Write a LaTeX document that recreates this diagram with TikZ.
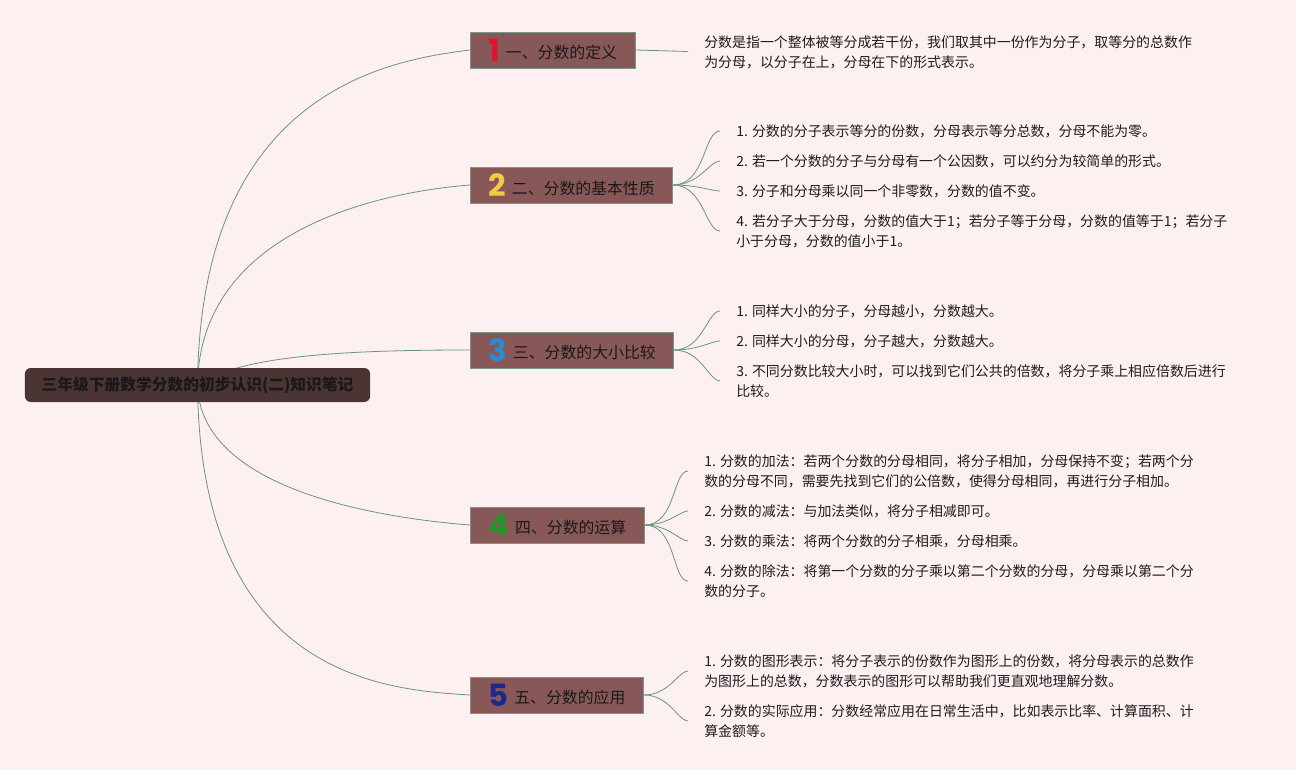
\documentclass[tikz,border=0pt]{standalone}
\usepackage{fontspec}
\setmainfont{Noto Sans CJK SC}
\newfontfamily\numfont{Poppins}
\usetikzlibrary{backgrounds}
\definecolor{bgpink}{RGB}{253,240,240}
\definecolor{rootfill}{RGB}{74,52,52}
\definecolor{topicfill}{RGB}{136,88,88}
\definecolor{topicline}{RGB}{120,150,135}
\definecolor{edgegreen}{RGB}{105,148,128}
\definecolor{leaftext}{RGB}{30,30,30}
\definecolor{numone}{RGB}{224,20,40}
\definecolor{numtwo}{RGB}{245,200,70}
\definecolor{numthree}{RGB}{40,140,210}
\definecolor{numfour}{RGB}{35,150,40}
\definecolor{numfive}{RGB}{30,40,140}

\begin{document}
\begin{tikzpicture}[x=0.75pt,y=-0.75pt]
\tikzset{
  rootnode/.style={rectangle,rounded corners=4.5pt,fill=rootfill,text=black!90,minimum width=259pt,minimum height=25.5pt,inner sep=2pt,font=\fontsize{11.8}{14}\selectfont\bfseries},
  topicnode/.style={rectangle,anchor=west,fill=topicfill,draw=topicline,line width=0.6pt,minimum height=27pt,inner xsep=13.5pt,inner ysep=1pt,text=black!90,font=\fontsize{11.9}{14}\selectfont},
  leafnode/.style={anchor=west,inner sep=0pt,align=left,text=leaftext,font=\fontsize{10.45}{15}\selectfont},
  mainedge/.style={draw=edgegreen,line width=0.6pt},
  leafedge/.style={draw=edgegreen,line width=0.6pt,shorten >=12pt}
}
\node[rootnode] (n_root) at (197.5,385) {三年级下册数学分数的初步认识(二)知识笔记};
\node[topicnode] (n_b1) at (470,50) {\raisebox{-1.8pt}{\numfont\bfseries\fontsize{23}{23}\selectfont\color{numone}1}\hspace{4.5pt}一、分数的定义};
\node[topicnode] (n_b2) at (470,185) {\raisebox{-1.8pt}{\numfont\bfseries\fontsize{23}{23}\selectfont\color{numtwo}2}\hspace{4.5pt}二、分数的基本性质};
\node[topicnode] (n_b3) at (470,350) {\raisebox{-1.8pt}{\numfont\bfseries\fontsize{23}{23}\selectfont\color{numthree}3}\hspace{4.5pt}三、分数的大小比较};
\node[topicnode] (n_b4) at (470,525) {\raisebox{-1.8pt}{\numfont\bfseries\fontsize{23}{23}\selectfont\color{numfour}4}\hspace{4.5pt}四、分数的运算};
\node[topicnode] (n_b5) at (470,695) {\raisebox{-1.8pt}{\numfont\bfseries\fontsize{23}{23}\selectfont\color{numfive}5}\hspace{4.5pt}五、分数的应用};
\node[leafnode] (n_b1_1) at (704,52) {分数是指一个整体被等分成若干份，我们取其中一份作为分子，取等分的总数作\\为分母，以分子在上，分母在下的形式表示。};
\node[leafnode] (n_b2_1) at (736,131) {1. 分数的分子表示等分的份数，分母表示等分总数，分母不能为零。};
\node[leafnode] (n_b2_2) at (736,161) {2. 若一个分数的分子与分母有一个公因数，可以约分为较简单的形式。};
\node[leafnode] (n_b2_3) at (736,191) {3. 分子和分母乘以同一个非零数，分数的值不变。};
\node[leafnode] (n_b2_4) at (736,231) {4. 若分子大于分母，分数的值大于1；若分子等于分母，分数的值等于1；若分子\\小于分母，分数的值小于1。};
\node[leafnode] (n_b3_1) at (736,311) {1. 同样大小的分子，分母越小，分数越大。};
\node[leafnode] (n_b3_2) at (736,341) {2. 同样大小的分母，分子越大，分数越大。};
\node[leafnode] (n_b3_3) at (736,381) {3. 不同分数比较大小时，可以找到它们公共的倍数，将分子乘上相应倍数后进行\\比较。};
\node[leafnode] (n_b4_1) at (704,471) {1. 分数的加法：若两个分数的分母相同，将分子相加，分母保持不变；若两个分\\数的分母不同，需要先找到它们的公倍数，使得分母相同，再进行分子相加。};
\node[leafnode] (n_b4_2) at (704,511) {2. 分数的减法：与加法类似，将分子相减即可。};
\node[leafnode] (n_b4_3) at (704,541) {3. 分数的乘法：将两个分数的分子相乘，分母相乘。};
\node[leafnode] (n_b4_4) at (704,581) {4. 分数的除法：将第一个分数的分子乘以第二个分数的分母，分母乘以第二个分\\数的分子。};
\node[leafnode] (n_b5_1) at (704,671) {1. 分数的图形表示：将分子表示的份数作为图形上的份数，将分母表示的总数作\\为图形上的总数，分数表示的图形可以帮助我们更直观地理解分数。};
\node[leafnode] (n_b5_2) at (704,721) {2. 分数的实际应用：分数经常应用在日常生活中，比如表示比率、计算面积、计\\算金额等。};
\begin{scope}[on background layer]
\fill[bgpink] (0,0) rectangle (1296,770);
% root to topics
\draw[mainedge] (n_root.center) .. controls (200,90) and (390,60) .. (n_b1.west);
\draw[mainedge] (n_root.center) .. controls (200,230) and (380,192) .. (n_b2.west);
\draw[mainedge] (n_root.center) .. controls (240,355) and (350,350) .. (n_b3.west);
\draw[mainedge] (n_root.center) .. controls (200,490) and (380,518) .. (n_b4.west);
\draw[mainedge] (n_root.center) .. controls (200,680) and (390,690) .. (n_b5.west);
% topics to leaves
\draw[leafedge] (n_b1.east) -- (n_b1_1.west);
\draw[leafedge] (n_b2.east) to[out=0,in=180] (n_b2_1.west);
\draw[leafedge] (n_b2.east) to[out=0,in=180] (n_b2_2.west);
\draw[leafedge] (n_b2.east) to[out=0,in=180] (n_b2_3.west);
\draw[leafedge] (n_b2.east) to[out=0,in=180] (n_b2_4.west);
\draw[leafedge] (n_b3.east) to[out=0,in=180] (n_b3_1.west);
\draw[leafedge] (n_b3.east) to[out=0,in=180] (n_b3_2.west);
\draw[leafedge] (n_b3.east) to[out=0,in=180] (n_b3_3.west);
\draw[leafedge] (n_b4.east) to[out=0,in=180] (n_b4_1.west);
\draw[leafedge] (n_b4.east) to[out=0,in=180] (n_b4_2.west);
\draw[leafedge] (n_b4.east) to[out=0,in=180] (n_b4_3.west);
\draw[leafedge] (n_b4.east) to[out=0,in=180] (n_b4_4.west);
\draw[leafedge] (n_b5.east) to[out=0,in=180] (n_b5_1.west);
\draw[leafedge] (n_b5.east) to[out=0,in=180] (n_b5_2.west);
\end{scope}
\end{tikzpicture}
\end{document}
